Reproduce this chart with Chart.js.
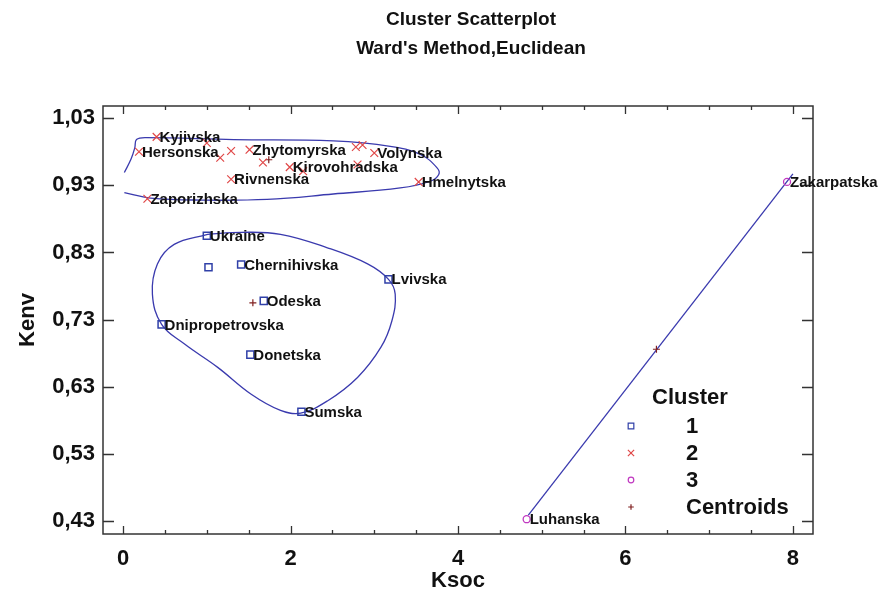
<!DOCTYPE html>
<html>
<head>
<meta charset="utf-8">
<title>Cluster Scatterplot</title>
<script src="https://cdn.jsdelivr.net/npm/chart.js@4.4.1/dist/chart.umd.min.js"></script>
<style>
  html, body { margin: 0; padding: 0; background: #fff; }
  #wrap { position: relative; width: 882px; height: 598px; }
  canvas { position: absolute; left: 0; top: 0; }
  #title {
    position: absolute; top: 4px; left: 60px; width: 822px; text-align: center;
    font: bold 19px "Liberation Sans", Arial, sans-serif; line-height: 29px; color: #111;
  }
</style>
</head>
<body>
<div id="wrap">
  <canvas id="chart" width="882" height="598"></canvas>
  <div id="title">Cluster Scatterplot<br>Ward's Method,Euclidean</div>
</div>
<script>
// tick labels
const xTicks = [0, 2, 4, 6, 8];
const yTicks = [0.43, 0.53, 0.63, 0.73, 0.83, 0.93, 1.03];

// cluster 1 (squares)
const cluster1 = [[1.00, 0.855], [1.02, 0.808], [1.41, 0.812], [3.17, 0.790],
  [1.68, 0.758], [0.46, 0.723], [1.52, 0.678], [2.13, 0.593]];
const cluster1Names = ["Ukraine", "", "Chernihivska", "Lvivska",
  "Odeska", "Dnipropetrovska", "Donetska", "Sumska"];

// cluster 2 (crosses)
const cluster2 = [[0.40, 1.002], [0.19, 0.980], [1.00, 0.993], [1.16, 0.971],
  [1.29, 0.981], [1.51, 0.983], [1.67, 0.964], [1.99, 0.957], [2.15, 0.951],
  [1.29, 0.939], [2.78, 0.987], [2.86, 0.990], [3.00, 0.978], [2.80, 0.961],
  [3.53, 0.935], [0.29, 0.910]];
const cluster2Names = ["Kyjivska", "Hersonska", "", "",
  "", "Zhytomyrska", "", "Kirovohradska", "",
  "Rivnenska", "", "", "Volynska", "",
  "Hmelnytska", "Zaporizhska"];

// cluster 3 (circles)
const cluster3 = [[7.93, 0.935], [4.82, 0.433]];
const cluster3Names = ["Zakarpatska", "Luhanska"];

const centroids = [[1.55, 0.755], [1.74, 0.968], [6.37, 0.686]];

// cluster outlines
const outline1 = [[1.01, 0.857], [1.41, 0.860], [1.88, 0.857], [2.44, 0.837],
  [2.92, 0.813], [3.17, 0.790], [3.25, 0.768], [3.21, 0.728], [3.08, 0.689],
  [2.80, 0.644], [2.44, 0.609], [2.12, 0.591], [1.88, 0.595], [1.53, 0.619],
  [1.13, 0.659], [0.73, 0.694], [0.46, 0.723], [0.35, 0.768], [0.41, 0.813],
  [0.61, 0.842], [1.01, 0.857]];
const outline2 = [[0.015, 0.949], [0.095, 0.969], [0.14, 0.986], [0.16, 0.998],
  [0.27, 1.001], [1.32, 0.998], [2.51, 0.996], [3.19, 0.988], [3.55, 0.976],
  [3.75, 0.956], [3.77, 0.946], [3.67, 0.936], [3.31, 0.926], [2.51, 0.917],
  [1.72, 0.909], [0.93, 0.908], [0.33, 0.911], [0.015, 0.919]];
const outline3 = [[4.84, 0.439], [8.00, 0.947]];

const legendLabels = ["1", "2", "3", "Centroids"];

const FONT = '"Liberation Sans", Arial, sans-serif';
Chart.defaults.font.family = FONT;
Chart.defaults.color = "#111";

const pts = (arr) => arr.map(([x, y]) => ({ x, y }));
const comma = (v) => v.toFixed(2).replace(".", ",");

const pointSet = (data, names, style, color, radius, width) => ({
  data: pts(data),
  names: names,
  pointStyle: style,
  pointRadius: radius,
  pointHoverRadius: radius,
  pointBorderWidth: width,
  borderColor: color,
  backgroundColor: "rgba(0,0,0,0)",
  showLine: false,
});

const lineSet = (data, tension) => ({
  data: pts(data),
  showLine: true,
  borderColor: "#3a3aae",
  borderWidth: 1.3,
  pointRadius: 0,
  tension: tension,
  fill: false,
});

// frame with inward ticks on all four sides
const frame = {
  id: "frame",
  afterDatasetsDraw(chart) {
    const { ctx, chartArea: a, scales: { x, y } } = chart;
    ctx.save();
    ctx.strokeStyle = "#333";
    ctx.lineWidth = 1.5;
    ctx.strokeRect(a.left, a.top, a.right - a.left, a.bottom - a.top);
    ctx.beginPath();
    for (let v = xTicks[0]; v <= xTicks[xTicks.length - 1]; v += 0.5) {
      const px = Math.round(x.getPixelForValue(v)) + 0.5;
      const len = xTicks.includes(v) ? 8 : 4;
      ctx.moveTo(px, a.bottom); ctx.lineTo(px, a.bottom - len);
      ctx.moveTo(px, a.top); ctx.lineTo(px, a.top + len);
    }
    yTicks.forEach((v) => {
      const py = Math.round(y.getPixelForValue(v)) + 0.5;
      ctx.moveTo(a.left, py); ctx.lineTo(a.left + 11, py);
      ctx.moveTo(a.right, py); ctx.lineTo(a.right - 11, py);
    });
    ctx.lineWidth = 1.3;
    ctx.stroke();
    ctx.restore();
  },
};

// names next to the points
const pointNames = {
  id: "pointNames",
  afterDatasetsDraw(chart) {
    const ctx = chart.ctx;
    ctx.save();
    ctx.font = "bold 15px " + FONT;
    ctx.fillStyle = "#111";
    ctx.textBaseline = "middle";
    chart.data.datasets.forEach((ds, i) => {
      if (!ds.names) return;
      chart.getDatasetMeta(i).data.forEach((el, j) => {
        if (ds.names[j]) ctx.fillText(ds.names[j], el.x + 3, el.y + 1);
      });
    });
    ctx.restore();
  },
};

// legend inside the plot, lower right
const clusterLegend = {
  id: "clusterLegend",
  afterDraw(chart) {
    const { ctx, chartArea: a } = chart;
    const mx = a.right - 182, tx = a.right - 127;
    ctx.save();
    ctx.font = "bold 22px " + FONT;
    ctx.fillStyle = "#111";
    ctx.textBaseline = "middle";
    ctx.fillText("Cluster", a.right - 161, a.bottom - 136);
    legendLabels.forEach((label, i) => {
      const ds = chart.data.datasets[i];
      const cy = a.bottom - 108 + i * 27;
      ctx.strokeStyle = ds.borderColor;
      ctx.fillStyle = "rgba(0,0,0,0)";
      ctx.lineWidth = 1.2;
      Chart.helpers.drawPoint(ctx, { pointStyle: ds.pointStyle, radius: ds.pointRadius * 0.8, rotation: 0, borderWidth: 1.2 }, mx, cy);
      ctx.fillStyle = "#111";
      ctx.fillText(label, tx, cy + 1);
    });
    ctx.restore();
  },
};

new Chart(document.getElementById("chart"), {
  type: "scatter",
  data: {
    datasets: [
      pointSet(cluster1, cluster1Names, "rect", "#3040a8", 5, 1.5),
      pointSet(cluster2, cluster2Names, "crossRot", "#e04848", 5.5, 1.2),
      pointSet(cluster3, cluster3Names, "circle", "#c038c0", 3.5, 1.3),
      pointSet(centroids, null, "cross", "#802020", 3.5, 1.2),
      lineSet(outline1, 0.4),
      lineSet(outline2, 0.4),
      lineSet(outline3, 0),
    ],
  },
  options: {
    responsive: false,
    animation: false,
    layout: { padding: { top: 106, right: 69, left: 0, bottom: 0 } },
    plugins: {
      legend: { display: false },
      tooltip: { enabled: false },
      title: { display: false },
    },
    scales: {
      x: {
        type: "linear",
        min: -0.24,
        max: 8.24,
        afterBuildTicks: (s) => { s.ticks = xTicks.map((v) => ({ value: v })); },
        afterFit: (s) => { s.height = 64; },
        grid: { display: false, drawTicks: false },
        border: { display: false },
        ticks: { padding: 12, font: { size: 22, weight: "bold" }, callback: (v) => String(v) },
        title: { display: true, text: "Ksoc", font: { size: 22, weight: "bold" }, padding: { top: 1 } },
      },
      y: {
        type: "linear",
        min: 0.411,
        max: 1.048,
        afterBuildTicks: (s) => { s.ticks = yTicks.map((v) => ({ value: v })); },
        afterFit: (s) => { s.width = 103; },
        grid: { display: false, drawTicks: false },
        border: { display: false },
        ticks: { padding: 8, font: { size: 22, weight: "bold" }, callback: (v) => comma(v) },
        title: { display: true, text: "Kenv", font: { size: 22, weight: "bold" }, padding: { top: 15 } },
      },
    },
  },
  plugins: [frame, pointNames, clusterLegend],
});
</script>
</body>
</html>
